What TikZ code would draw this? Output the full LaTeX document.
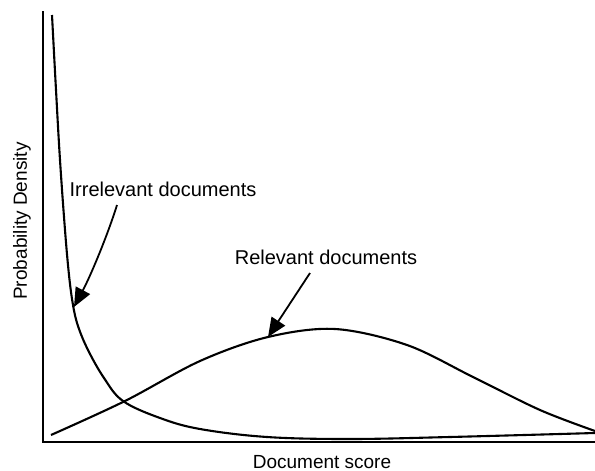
\documentclass[tikz,border=0pt]{standalone}
\usepackage{fontspec}
\setmainfont{Liberation Sans}
\usetikzlibrary{arrows.meta}
\begin{document}
\begin{tikzpicture}[x=1pt,y=-1pt,
  axis/.style={line width=2.8pt},
  curve/.style={line width=2.1pt,line join=round},
  pointer/.style={line width=1.8pt,-{Triangle[length=19pt,width=16pt]}},
  lbl/.style={font=\fontsize{20}{24}\selectfont,inner sep=0pt},
  axlbl/.style={font=\fontsize{19}{23}\selectfont,inner sep=0pt}]
\useasboundingbox (0,0) rectangle (595,471);
% axes
\draw[axis] (43,11) -- (43,442) -- (595,442);
\node[axlbl] (xl) at (322,462) {Document score};
\node[axlbl,rotate=90] (yl) at (22,221) {Probability Density};
% irrelevant curve
\draw[curve] plot[smooth,tension=0.6] coordinates {(52,15) (56,90) (60,160) (65,230) (69,275) (73,305) (78,326) (88,350) (104,378) (123,401) (160,418) (200,429) (267,437) (350,439) (450,437) (595,433)};
% relevant curve
\draw[curve] plot[smooth,tension=0.55] coordinates {(51,435) (125,401) (200,361) (268,337) (335,329) (407,345) (473,377) (540,410) (595,431)};
% labels and pointers
\node[lbl] (irr) at (163,189.5) {Irrelevant documents};
\node[lbl] (rel) at (326,257.5) {Relevant documents};
\coordinate (irrtip) at (74,307);
\coordinate (reltip) at (268,337);
\coordinate (irrstart) at (117,205);
\coordinate (relstart) at (310,273);
\draw[pointer] (irrstart) .. controls (107,237) and (90,277) .. (irrtip);
\draw[pointer] (relstart) -- (reltip);
\end{tikzpicture}
\end{document}
